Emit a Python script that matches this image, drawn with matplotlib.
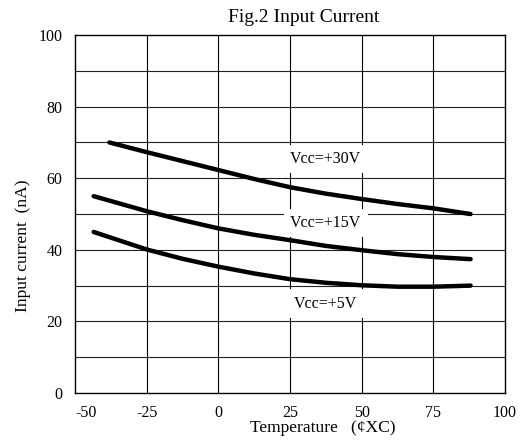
import matplotlib
matplotlib.use("Agg")
import matplotlib.pyplot as plt

plt.rcParams['font.family'] = ['Liberation Serif', 'DejaVu Serif']
plt.rcParams['axes.unicode_minus'] = False

temp_30 = [-38, -25, -12.5, 0, 12.5, 25, 37.5, 50, 62.5, 75, 88]
cur_30 = [70, 67.3, 64.8, 62.3, 59.8, 57.5, 55.7, 54.2, 52.8, 51.6, 50]

temp_15 = [-43.5, -25, -12.5, 0, 12.5, 25, 37.5, 50, 62.5, 75, 88]
cur_15 = [55, 50.8, 48.3, 46, 44.2, 42.7, 41.1, 39.9, 38.8, 38, 37.4]

temp_5 = [-43.5, -25, -12.5, 0, 12.5, 25, 37.5, 50, 62.5, 75, 88]
cur_5 = [45, 40.1, 37.5, 35.3, 33.4, 31.8, 30.8, 30.1, 29.7, 29.7, 30]

labels = ["Vcc=+30V", "Vcc=+15V", "Vcc=+5V"]
label_y = [65.4, 47.5, 24.9]

xticks = [-50, -25, 0, 25, 50, 75, 100]
yticks = [0, 20, 40, 60, 80, 100]
xgrid = [-25, 0, 25, 50, 75]
ygrid = [10, 20, 30, 40, 50, 60, 70, 80, 90]

fig = plt.figure(figsize=(5.25, 4.44), dpi=100)
ax = fig.add_axes([0.1429, 0.1149, 0.819, 0.806])

ax.set_xlim(-50, 100)
ax.set_ylim(0, 100)
ax.set_xticks(xticks)
ax.set_yticks(yticks)
ax.tick_params(axis='both', length=0, labelsize=11.5)
ax.tick_params(axis='y', pad=9)
ax.tick_params(axis='x', pad=9)
# the first label sits a little inside the frame in the original
ax.get_xticklabels()[0].set_horizontalalignment('left')
for x in xgrid:
    ax.axvline(x, color='black', linewidth=0.8, zorder=1)
for y in ygrid:
    ax.axhline(y, color='#222222', linewidth=0.8, zorder=1)
for s in ax.spines.values():
    s.set_linewidth(1.0)

for t, c in [(temp_30, cur_30), (temp_15, cur_15), (temp_5, cur_5)]:
    ax.plot(t, c, color='black', linewidth=3.2, solid_capstyle='round', zorder=3)

for lab, y in zip(labels, label_y):
    ax.text(37.5, y, lab, ha='center', va='center', fontsize=11.5, zorder=4,
            bbox=dict(boxstyle='square,pad=0.4', fc='white', ec='none'))

fig.text(304 / 525, 1 - 17 / 444, "Fig.2 Input Current", ha='center', va='center', fontsize=14)
fig.text(323 / 525, 1 - 428 / 444, "Temperature   (\u00a2XC)", ha='center', va='center', fontsize=12.6)
fig.text(23 / 525, 1 - 246 / 444, "Input current  (nA)", ha='center', va='center', rotation=90, fontsize=12.6)

fig.savefig("out.png", dpi=100, facecolor='white')
